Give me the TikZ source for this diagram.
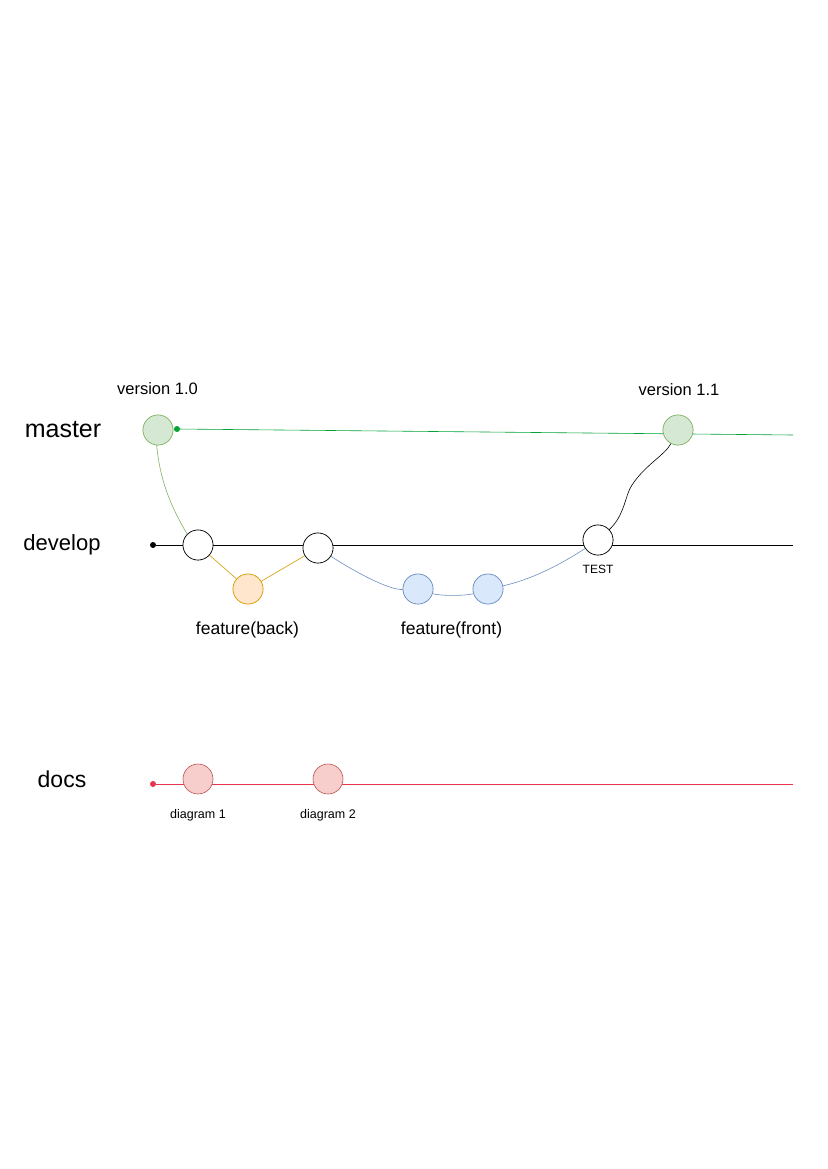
\documentclass[tikz,border=0pt]{standalone}
\usepackage{fontspec}
\setmainfont{Liberation Sans}
\begin{document}
\begin{tikzpicture}[x=1pt,y=-1pt,
  commit/.style={circle,draw,minimum size=30pt,inner sep=0pt,line width=0.6pt},
  cgreen/.style={commit,fill=gfill,draw=gstroke},
  cwhite/.style={commit,fill=white,draw=black},
  corange/.style={commit,fill=ofill,draw=ostroke},
  cblue/.style={commit,fill=bfill,draw=bstroke},
  cred/.style={commit,fill=rfill,draw=rstroke},
  dot/.style={circle,inner sep=0pt,minimum size=6pt},
  branchlabel/.style={font=\fontsize{22}{26}\selectfont},
  lbl/.style={font=\fontsize{16.5}{19}\selectfont},
  featlbl/.style={font=\fontsize{17.5}{20}\selectfont},
  smalllbl/.style={font=\fontsize{12}{14}\selectfont},
  link/.style={line width=0.6pt}]
\definecolor{gfill}{HTML}{D5E8D4}
\definecolor{gstroke}{HTML}{82B366}
\definecolor{gline}{HTML}{00A336}
\definecolor{ofill}{HTML}{FFE6CC}
\definecolor{ostroke}{HTML}{D79B00}
\definecolor{bfill}{HTML}{DAE8FC}
\definecolor{bstroke}{HTML}{6C8EBF}
\definecolor{rfill}{HTML}{F8CECC}
\definecolor{rstroke}{HTML}{B85450}
\definecolor{rline}{HTML}{E8344E}
\useasboundingbox[fill=white] (0,0) rectangle (827,1169);

% labels
\node[branchlabel,font=\fontsize{25}{29}\selectfont] (lmaster) at (63,430) {master};
\node[branchlabel] (ldevelop) at (62,545) {develop};
\node[branchlabel,font=\fontsize{23}{27}\selectfont] (ldocs) at (62,779) {docs};

% dots and ends
\node[dot,fill=gline] (gdot) at (177,429) {};
\coordinate (gend) at (793,435);
\node[dot,fill=black] (ddot) at (153,545) {};
\coordinate (dend) at (793,545);
\node[dot,fill=rline] (rdot) at (153,784) {};
\coordinate (rend) at (793,784);

% main lines
\draw[link,gline] (gdot) -- (gend);
\draw[link,black] (ddot) -- (dend);
\draw[link,rline] (rdot) -- (rend);

% commits
\node[cgreen] (v10) at (158,430) {};
\node[cgreen] (v11) at (678,430) {};
\node[cwhite] (d1) at (198,545) {};
\node[cwhite] (d2) at (318,548) {};
\node[cwhite] (test) at (598,540) {};
\node[corange] (fb) at (248,589) {};
\node[cblue] (f1) at (418,589) {};
\node[cblue] (f2) at (488,589) {};
\node[cred] (doc1) at (198,779) {};
\node[cred] (doc2) at (328,779) {};

% connectors
\draw[link,gstroke] (v10.265) .. controls (160,480) and (170,505) .. (d1.north west);
\draw[link,ostroke] (d1) -- (fb);
\draw[link,ostroke] (fb) -- (d2);
\draw[link,bstroke] (d2) .. controls (360,575) and (390,590) .. (f1);
\draw[link,bstroke] (f1) .. controls (440,596) and (466,596) .. (f2);
\draw[link,bstroke] (f2) .. controls (530,580) and (560,565) .. (test);
\draw[link,black] (test) .. controls (625,515) and (625,495) .. (632,485) .. controls (645,465) and (665,455) .. (v11);

% redraw commits on top
\node[cgreen] at (v10) {};
\node[cgreen] at (v11) {};
\node[cwhite] at (d1) {};
\node[cwhite] at (d2) {};
\node[cwhite] at (test) {};
\node[corange] at (fb) {};
\node[cblue] at (f1) {};
\node[cblue] at (f2) {};

% texts
\node[lbl] (t10) at (157.5,389) {version 1.0};
\node[lbl] (t11) at (679,390) {version 1.1};
\node[featlbl] (tfb) at (247.5,630) {feature(back)};
\node[featlbl] (tff) at (451.5,630) {feature(front)};
\node[smalllbl] (ttest) at (598,569) {TEST};
\node[smalllbl,font=\fontsize{12.5}{15}\selectfont] (tdoc1) at (198,815) {diagram 1};
\node[smalllbl,font=\fontsize{12.5}{15}\selectfont] (tdoc2) at (328,815) {diagram 2};
\end{tikzpicture}
\end{document}
